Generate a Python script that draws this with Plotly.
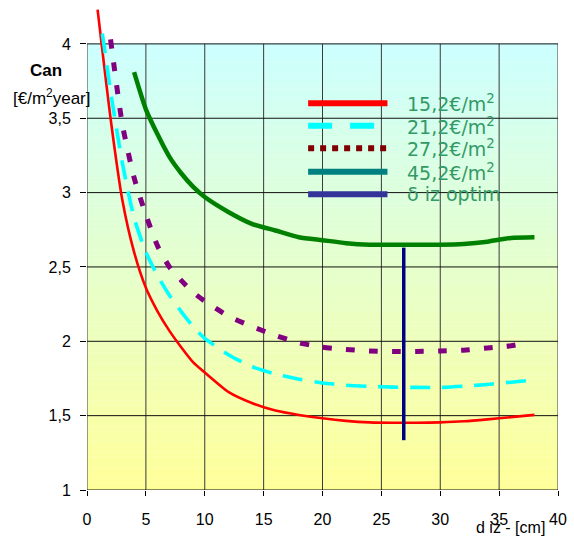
import plotly.graph_objects as go

# ---------------- data ----------------
x_152 = [0.9, 2, 3, 4, 5, 6, 7, 8, 9, 10, 12, 14, 16, 18, 20, 22, 24, 26, 28, 30, 32, 34, 36, 38]
y_152 = [4.23, 3.5, 2.95, 2.6, 2.36, 2.2, 2.07, 1.96, 1.86, 1.79, 1.66, 1.585, 1.535, 1.505, 1.482, 1.465, 1.455, 1.452, 1.452, 1.455, 1.462, 1.475, 1.49, 1.505]

x_212 = [1.3, 2, 3, 4, 5, 6, 7, 8, 9, 10, 12, 14, 16, 18, 20, 22, 24, 26, 28, 30, 32, 34, 36, 38]
y_212 = [4.07, 3.68, 3.2, 2.83, 2.6, 2.44, 2.31, 2.2, 2.1, 2.02, 1.91, 1.83, 1.78, 1.745, 1.72, 1.705, 1.697, 1.692, 1.69, 1.69, 1.698, 1.71, 1.725, 1.74]

x_272 = [2, 3, 4, 5, 6, 7, 8, 9, 10, 12, 14, 16, 18, 20, 22, 24, 26, 28, 30, 32, 34, 36, 37]
y_272 = [4.03, 3.46, 3.1, 2.85, 2.64, 2.5, 2.41, 2.33, 2.27, 2.17, 2.1, 2.04, 1.99, 1.96, 1.945, 1.935, 1.932, 1.932, 1.935, 1.94, 1.955, 1.97, 1.985]

x_452 = [4, 5, 6, 7, 8, 9, 10, 12, 14, 16, 18, 20, 22, 24, 26, 28, 30, 32, 34, 36, 38]
y_452 = [3.81, 3.56, 3.39, 3.24, 3.13, 3.04, 2.97, 2.87, 2.79, 2.745, 2.70, 2.68, 2.66, 2.65, 2.65, 2.65, 2.65, 2.655, 2.67, 2.695, 2.70]

x_opt = [26.9, 26.9]
y_opt = [1.335, 2.63]

x_ticks = [0, 5, 10, 15, 20, 25, 30, 35, 40]
y_ticks = [1, 1.5, 2, 2.5, 3, 3.5, 4]
y_ticktext = ["1", "1,5", "2", "2,5", "3", "3,5", "4"]

legend_labels = ["15,2€/m<sup>2</sup>", "21,2€/m<sup>2</sup>", "27,2€/m<sup>2</sup>",
                 "45,2€/m<sup>2</sup>", "δ iz optim"]

# ---------------- geometry helpers ----------------
W, H = 574, 536
L, R, T, B = 87, 12, 7, 46
PW, PH = W - L - R, H - T - B
X0, X1 = 0, 40
PXU = PW / (X1 - X0)
YPU = 148.7
Y0 = 1
Y1 = Y0 + PH / YPU


def px2x(px):
    return X0 + (px - L) / PXU


def py2y(py):
    return Y0 + (H - B - py) / YPU


def px2paper(px):
    return (px - L) / PW


def py2paper(py):
    return (H - B - py) / PH


fig = go.Figure()

shapes = []
# background gradient (cyan top -> yellow bottom) between y=1 and y=4
top_c = (0xCC, 0xFF, 0xFF)
bot_c = (0xFF, 0xFF, 0x99)
N = 120
for i in range(N):
    f0 = i / N
    f1 = (i + 1) / N
    fm = (f0 + f1) / 2
    c = tuple(round(bot_c[k] + (top_c[k] - bot_c[k]) * fm) for k in range(3))
    shapes.append(dict(type="rect", xref="x", yref="y", x0=0, x1=40,
                       y0=1 + 3 * f0, y1=1 + 3 * f1 + 0.002,
                       fillcolor="rgb(%d,%d,%d)" % c, line=dict(width=0), layer="below"))
# grid lines
for xv in x_ticks:
    shapes.append(dict(type="line", xref="x", yref="y", x0=xv, x1=xv, y0=1, y1=4,
                       line=dict(color="#3a3a3a", width=1), layer="below"))
for yv in y_ticks:
    shapes.append(dict(type="line", xref="x", yref="y", x0=0, x1=40, y0=yv, y1=yv,
                       line=dict(color="#111111", width=1), layer="below"))

# ---------------- data traces ----------------
fig.add_trace(go.Scatter(x=x_152, y=y_152, mode="lines", line=dict(color="#ff0000", width=2.6, shape="spline", smoothing=0.6), showlegend=False))
fig.add_trace(go.Scatter(x=x_212, y=y_212, mode="lines", line=dict(color="#00ffff", width=3.6, dash="20px,12px", shape="spline", smoothing=0.6), showlegend=False))
fig.add_trace(go.Scatter(x=x_272, y=y_272, mode="lines", line=dict(color="#800080", width=5, dash="9px,14px", shape="spline", smoothing=0.6), showlegend=False))
fig.add_trace(go.Scatter(x=x_452, y=y_452, mode="lines", line=dict(color="#008000", width=4.5, shape="spline", smoothing=0.6), showlegend=False))
fig.add_trace(go.Scatter(x=x_opt, y=y_opt, mode="lines", line=dict(color="#000080", width=3.5), showlegend=False))

# ---------------- hand-drawn legend ----------------
leg_colors = ["#ff0000", "#00ffff", "#800000", "#008080", "#333399"]
leg_dash = ["solid", "24px,18px", "6px,6px", "solid", "solid"]
leg_rows = [103.3, 125.7, 148.3, 171.7, 194.3]
for col, dsh, ry, lab in zip(leg_colors, leg_dash, leg_rows, legend_labels):
    fig.add_trace(go.Scatter(x=[px2x(310), px2x(390)], y=[py2y(ry), py2y(ry)], mode="lines",
                             line=dict(color=col, width=6, dash=dsh), showlegend=False, hoverinfo="skip"))

annotations = []
for ry, lab in zip(leg_rows, legend_labels):
    annotations.append(dict(x=px2paper(408), y=py2paper(ry), xref="paper", yref="paper",
                            text=lab, showarrow=False, xanchor="left", yanchor="middle",
                            font=dict(family="DejaVu Sans", size=19, color="#339966")))

# axis titles
annotations.append(dict(x=px2paper(46), y=py2paper(71), xref="paper", yref="paper",
                        text="<b>Can</b>", showarrow=False, xanchor="center", yanchor="middle",
                        font=dict(family="Liberation Sans", size=17, color="black")))
annotations.append(dict(x=px2paper(51), y=py2paper(97), xref="paper", yref="paper",
                        text="[€/m<sup>2</sup>year]", showarrow=False, xanchor="center", yanchor="middle",
                        font=dict(family="Liberation Sans", size=17, color="black")))
annotations.append(dict(x=px2paper(514), y=py2paper(527), xref="paper", yref="paper",
                        text="d iz - [cm]", showarrow=False, xanchor="center", yanchor="middle",
                        font=dict(family="Liberation Sans", size=16, color="black")))

fig.update_layout(
    width=W, height=H,
    margin=dict(l=L, r=R, t=T, b=B, pad=0),
    paper_bgcolor="white", plot_bgcolor="white",
    shapes=shapes, annotations=annotations,
    showlegend=False,
    xaxis=dict(range=[X0, X1], tickvals=x_ticks, showgrid=False, zeroline=False, showline=False,
               ticks="outside", ticklen=5, tickcolor="black", tickwidth=1,
               tickfont=dict(family="Liberation Sans", size=16, color="black"), ticklabelstandoff=10),
    yaxis=dict(range=[Y0, Y1], tickvals=y_ticks, ticktext=y_ticktext, showgrid=False, zeroline=False,
               showline=False, ticks="outside", ticklen=6, tickcolor="black", tickwidth=1,
               tickfont=dict(family="Liberation Sans", size=16, color="black"), ticklabelstandoff=6),
)

fig.write_html("out.html")
